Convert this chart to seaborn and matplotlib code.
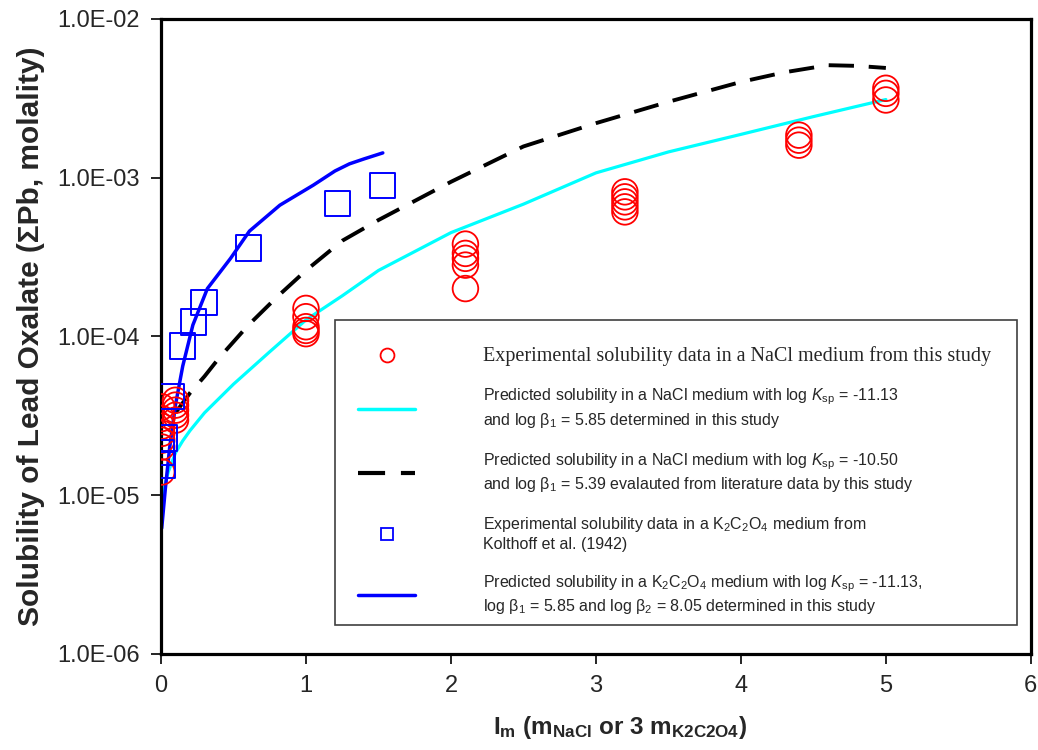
import numpy as np
import pandas as pd
import seaborn as sns
import matplotlib.pyplot as plt
from matplotlib.lines import Line2D
from matplotlib.patches import Rectangle

# Experimental solubility, NaCl medium (this study)
nacl_im = [0.005, 0.005, 0.005, 0.005, 0.005, 0.005, 0.005,
           0.1, 0.1, 0.1, 0.1, 0.1,
           1.0, 1.0, 1.0, 1.0, 1.0,
           2.1, 2.1, 2.1, 2.1, 2.1,
           3.2, 3.2, 3.2, 3.2, 3.2,
           4.4, 4.4, 4.4,
           5.0, 5.0, 5.0]
nacl_sol = [3.6e-5, 3.04e-5, 2.72e-5, 2.45e-5, 2.22e-5, 2.01e-5, 1.40e-5,
            3.96e-5, 3.69e-5, 3.43e-5, 3.19e-5, 2.97e-5,
            1.50e-4, 1.33e-4, 1.15e-4, 1.09e-4, 1.04e-4,
            3.81e-4, 3.33e-4, 3.10e-4, 2.81e-4, 2.00e-4,
            8.13e-4, 7.56e-4, 7.03e-4, 6.54e-4, 6.08e-4,
            1.85e-3, 1.72e-3, 1.60e-3,
            3.65e-3, 3.39e-3, 3.08e-3]

# Kolthoff et al. (1942), K2C2O4 medium
k2c2o4_im = [0.0, 0.012, 0.023, 0.074, 0.147, 0.223, 0.297, 0.602, 1.216, 1.529]
k2c2o4_sol = [1.85e-5, 1.55e-5, 2.29e-5, 4.2e-5, 8.7e-5, 1.23e-4, 1.64e-4, 3.6e-4, 6.87e-4, 8.87e-4]

# Predicted, NaCl, log Ksp = -11.13, log b1 = 5.85
cyan_im = [0.01, 0.05, 0.1, 0.15, 0.2, 0.3, 0.5, 0.75, 1.0, 1.25, 1.5, 2.0, 2.5, 3.0, 3.5, 4.0, 4.5, 5.0]
cyan_sol = [1.0e-5, 1.4e-5, 1.85e-5, 2.2e-5, 2.55e-5, 3.3e-5, 5.0e-5, 8.0e-5, 1.27e-4, 1.8e-4, 2.6e-4,
            4.5e-4, 6.8e-4, 1.07e-3, 1.45e-3, 1.87e-3, 2.42e-3, 3.1e-3]

# Predicted, NaCl, log Ksp = -10.50, log b1 = 5.39
dash_im = [0.1, 0.2, 0.3, 0.4, 0.6, 0.8, 1.0, 1.25, 1.5, 2.0, 2.5, 3.0, 3.5, 4.0, 4.3, 4.6, 4.8, 5.0]
dash_sol = [3.3e-5, 4.4e-5, 5.6e-5, 7.3e-5, 1.17e-4, 1.77e-4, 2.6e-4, 4.0e-4, 5.4e-4,
            9.4e-4, 1.57e-3, 2.2e-3, 3.0e-3, 4.0e-3, 4.6e-3, 5.1e-3, 5.05e-3, 4.9e-3]

# Predicted, K2C2O4
blue_im = [0.005, 0.03, 0.06, 0.1, 0.15, 0.22, 0.32, 0.48, 0.61, 0.82, 1.05, 1.2, 1.3, 1.4, 1.53]
blue_sol = [6.2e-6, 1.1e-5, 2.0e-5, 3.7e-5, 6.5e-5, 1.18e-4, 2.0e-4, 3.1e-4,
            4.6e-4, 6.7e-4, 8.95e-4, 1.1e-3, 1.22e-3, 1.31e-3, 1.43e-3]

y_ticks = [1e-6, 1e-5, 1e-4, 1e-3, 1e-2]
y_ticklabels = ['1.0E-06', '1.0E-05', '1.0E-04', '1.0E-03', '1.0E-02']
x_ticks = [0, 1, 2, 3, 4, 5, 6]

labels = [
    'Experimental solubility data in a NaCl medium from this study',
    'Predicted solubility in a NaCl medium with log $K_{\\mathrm{sp}}$ = -11.13\n'
    'and log β$_1$ = 5.85 determined in this study',
    'Predicted solubility in a NaCl medium with log $K_{\\mathrm{sp}}$ = -10.50\n'
    'and log β$_1$ = 5.39 evalauted from literature data by this study',
    'Experimental solubility data in a K$_2$C$_2$O$_4$ medium from\n'
    'Kolthoff et al. (1942)',
    'Predicted solubility in a K$_2$C$_2$O$_4$ medium with log $K_{\\mathrm{sp}}$ = -11.13,\n'
    'log β$_1$ = 5.85 and log β$_2$ = 8.05 determined in this study',
]

sns.set_style('white')
plt.rcParams['font.family'] = ['Liberation Sans', 'DejaVu Sans']
plt.rcParams['mathtext.fontset'] = 'custom'
plt.rcParams['mathtext.rm'] = 'Liberation Sans'
plt.rcParams['mathtext.it'] = 'Liberation Sans:italic'
plt.rcParams['mathtext.bf'] = 'Liberation Sans:bold'

fig = plt.figure(figsize=(10.38, 7.5), dpi=100)
ax = fig.add_axes([0.1551, 0.128, 0.838, 0.847])

sns.lineplot(x=cyan_im, y=cyan_sol, color='#00FFFF', lw=2.3, ax=ax)
sns.lineplot(x=dash_im, y=dash_sol, color='black', lw=2.8, linestyle=(0, (6.5, 3.8)), ax=ax)
sns.lineplot(x=blue_im, y=blue_sol, color='#0000FF', lw=2.5, ax=ax)
sns.scatterplot(x=nacl_im, y=nacl_sol, marker='o', s=340, facecolor='none',
                edgecolor='#FF0000', linewidth=1.3, ax=ax, zorder=3)
sns.scatterplot(x=k2c2o4_im, y=k2c2o4_sol, marker='s', s=330, facecolor='none',
                edgecolor='#0000FF', linewidth=1.4, ax=ax, zorder=3)

ax.set_yscale('log')
ax.set_xlim(0, 6)
ax.set_ylim(1e-6, 1e-2)
ax.set_yticks(y_ticks)
ax.set_yticklabels(y_ticklabels, fontsize=17)
ax.yaxis.set_minor_locator(plt.NullLocator())
ax.set_xticks(x_ticks)
ax.set_xticklabels([str(t) for t in x_ticks], fontsize=17)
ax.tick_params(axis='both', direction='out', length=7, width=1.2, color='black',
               left=True, bottom=True, pad=8)

for sp in ax.spines.values():
    sp.set_visible(True)
    sp.set_color('black')
    sp.set_linewidth(2.3)

ax.set_ylabel('Solubility of Lead Oxalate (ΣPb, molality)', fontsize=21.5,
              fontweight='bold', labelpad=9)
ax.set_xlabel('I$_\\mathbf{m}$ (m$_\\mathbf{NaCl}$ or 3 m$_\\mathbf{K2C2O4}$)',
              fontsize=17.5, fontweight='bold')
ax.xaxis.set_label_coords(0.528, -0.094)

# legend frame drawn on its own, content placed inside it
ax.add_patch(Rectangle((0.2, 0.0457), 0.784, 0.48, transform=ax.transAxes,
                       facecolor='white', edgecolor='#404040', lw=1.2, zorder=4))

handles = [
    Line2D([], [], ls='none', marker='o', ms=10, mfc='none', mec='#FF0000', mew=1.3),
    Line2D([], [], color='#00FFFF', lw=2.5),
    Line2D([], [], color='black', lw=3, linestyle=(0, (6.5, 3.8))),
    Line2D([], [], ls='none', marker='s', ms=9, mfc='none', mec='#0000FF', mew=1.3),
    Line2D([], [], color='#0000FF', lw=2.5),
]
leg = ax.legend(handles, labels, loc='upper left', bbox_to_anchor=(0.2264, 0.485),
                borderaxespad=0, borderpad=0, frameon=False, handlelength=3.6,
                handletextpad=4.2, labelspacing=1.32, prop={'size': 11.5})
leg.set_zorder(5)
for i, t in enumerate(leg.get_texts()):
    t.set_linespacing(1.25)
    if i == 0:
        t.set_fontfamily(['Liberation Serif', 'DejaVu Serif'])
        t.set_fontsize(14.5)

fig.savefig('out.png', dpi=100)
